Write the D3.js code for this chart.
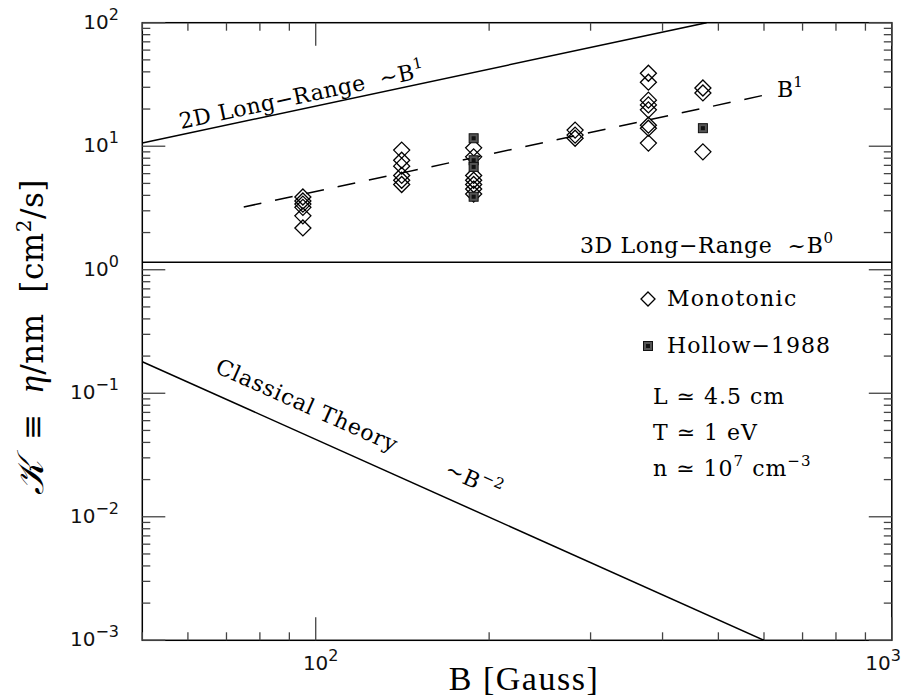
<!DOCTYPE html>
<html><head><meta charset="utf-8">
<script src="https://cdn.jsdelivr.net/npm/d3@7"></script>
<style>body{margin:0;background:#fff}svg{display:block}text{white-space:pre}</style>
</head><body>
<svg id="c" width="903" height="698"></svg>
<script>
// ---- data ----
const monoB = [95,95,95,95,95,95, 141,141,141,141,141,141, 188,188,188,188,188,188,188, 282,282,282, 378,378,378,378,378,378,378,378, 470,470,470];
const monoK = [3.88,3.6,3.4,3.2,2.73,2.18, 9.3,7.7,6.9,5.8,5.3,4.9, 9.7,8.2,5.8,5.3,4.9,4.5,4.1, 13.5,12.3,11.6, 39,33,23.6,21.6,19.7,14.8,14,10.6, 29.6,27,9.0];
const hollowB = [188,188,188,188,470];
const hollowK = [11.6,7.7,6.8,3.9,14.0];
const line2D_B = [50,477], line2D_K = [10.6,100];
const fitB = [75,600], fitK = [3.22,25.9];
const line3D_B = [50,1000], line3D_K = [1.15,1.15];
const classB = [50,600], classK = [0.18,0.001];
const xTickLabels = [{v:100,e:"2"},{v:1000,e:"3"}];
const yTickLabels = [{v:100,e:"2"},{v:10,e:"1"},{v:1,e:"0"},{v:0.1,e:"\u22121"},{v:0.01,e:"\u22122"},{v:0.001,e:"\u22123"}];

const svg = d3.select("#c");
const L=142.3,R=891.8,T=22.7,B=640.3;
const x = d3.scaleLog().domain([50,1000]).range([L,R]);
const y = d3.scaleLog().domain([0.001,100]).range([B,T]);
const serif = "'DejaVu Serif', 'Liberation Serif', serif";

// frame
svg.append("rect").attr("x",L).attr("y",T).attr("width",R-L).attr("height",B-T)
  .attr("fill","none").attr("stroke","#000").attr("stroke-width",1.5);

// ticks
const xt = [];
for (let d=10; d<=1000; d*=10) for (let m=1;m<10;m++){const v=d*m; if(v>=50&&v<=1000) xt.push(v);}
const yt = [];
for (let d=0.001; d<=100; d*=10) for (let m=1;m<10;m++){const v=+(d*m).toPrecision(3); if(v>=0.001&&v<=100) yt.push(v);}
const isMajor = v => Math.abs(Math.log10(v)-Math.round(Math.log10(v)))<1e-6;
const tg = svg.append("g").attr("stroke","#444").attr("stroke-width",1.3);
xt.forEach(v=>{const len=isMajor(v)?23:8, px=x(v);
  tg.append("line").attr("x1",px).attr("x2",px).attr("y1",B).attr("y2",B-len);
  tg.append("line").attr("x1",px).attr("x2",px).attr("y1",T).attr("y2",T+len);});
yt.forEach(v=>{const len=isMajor(v)?23:8, py=y(v);
  tg.append("line").attr("y1",py).attr("y2",py).attr("x1",L).attr("x2",L+len);
  tg.append("line").attr("y1",py).attr("y2",py).attr("x1",R).attr("x2",R-len);});

// tick labels
const tickFont = "'DejaVu Sans', sans-serif";
yTickLabels.forEach(t=>{
  const tx = svg.append("text").attr("x",119).attr("y",y(t.v)+6).attr("text-anchor","end")
    .attr("font-family",tickFont).attr("font-size",20).attr("fill","#111");
  tx.append("tspan").text("10");
  tx.append("tspan").attr("dy",-9).attr("font-size",16).text(t.e);
});
xTickLabels.forEach(t=>{
  const last = t.v===1000;
  const tx = svg.append("text").attr("x",last?901:x(t.v)+5).attr("y",670).attr("text-anchor",last?"end":"middle")
    .attr("font-family",tickFont).attr("font-size",20).attr("fill","#111");
  tx.append("tspan").text("10");
  tx.append("tspan").attr("dy",-9).attr("font-size",16).text(t.e);
});

// lines
const ln = d3.line().x(d=>x(d[0])).y(d=>y(d[1]));
svg.append("clipPath").attr("id","pc").append("rect").attr("x",L).attr("y",T).attr("width",R-L).attr("height",B-T);
const lg = svg.append("g").attr("clip-path","url(#pc)").attr("fill","none").attr("stroke","#000").attr("stroke-width",1.5);
lg.append("path").attr("d",ln(d3.zip(line2D_B,line2D_K)));
lg.append("path").attr("d",ln(d3.zip(line3D_B,line3D_K)));
lg.append("path").attr("d",ln(d3.zip(classB,classK)));
lg.append("path").attr("d",ln(d3.zip(fitB,fitK))).attr("stroke-dasharray","18,14");

// markers
const mg = svg.append("g");
function diamond(g,cx,cy,s){
  g.append("path").attr("d",`M${cx},${cy-s}L${cx+s},${cy}L${cx},${cy+s}L${cx-s},${cy}Z`)
    .attr("fill","none").attr("stroke","#000").attr("stroke-width",1.3);
}
d3.zip(monoB,monoK).forEach(([b,k])=>diamond(mg,x(b),y(k),8));
function hollowMark(g,cx,cy){
  g.append("rect").attr("x",cx-4.5).attr("y",cy-4.5).attr("width",9).attr("height",9)
    .attr("fill","#555").attr("stroke","#111").attr("stroke-width",1);
  g.append("rect").attr("x",cx-2).attr("y",cy-2).attr("width",4).attr("height",4).attr("fill","#111");
}
d3.zip(hollowB,hollowK).forEach(([b,k])=>hollowMark(mg,x(b),y(k)));

// annotations
function angleOf(bs,ks){const dx=x(bs[1])-x(bs[0]), dy=y(ks[1])-y(ks[0]); return Math.atan2(dy,dx)*180/Math.PI;}
const a2 = angleOf(line2D_B,line2D_K);
const t2 = svg.append("text").attr("font-family",serif).attr("font-size",22).attr("letter-spacing",0.4)
  .attr("transform",`translate(181,129) rotate(${a2})`);
t2.append("tspan").text("2D Long\u2212Range  ~B");
t2.append("tspan").attr("dy",-10).attr("font-size",15).text("1");

const tb = svg.append("text").attr("font-family",serif).attr("font-size",22).attr("x",777).attr("y",97);
tb.append("tspan").text("B");
tb.append("tspan").attr("dy",-10).attr("font-size",15).text("1");

const t3 = svg.append("text").attr("font-family",serif).attr("font-size",22).attr("letter-spacing",0.6).attr("x",580).attr("y",253);
t3.append("tspan").text("3D Long\u2212Range  ~B");
t3.append("tspan").attr("dy",-10).attr("font-size",15).text("0");

const ac = angleOf(classB,classK);
const tc = svg.append("text").attr("font-family",serif).attr("font-size",22).attr("letter-spacing",0.8)
  .attr("transform",`translate(214,372) rotate(${ac})`);
tc.append("tspan").text("Classical Theory       ~B");
tc.append("tspan").attr("dy",-10).attr("font-size",15).text("\u22122");

// legend
const lf = 22;
diamond(svg,648,299,7);
svg.append("text").attr("x",667).attr("y",306).attr("font-family",serif).attr("font-size",lf).attr("letter-spacing",1.3).text("Monotonic");
hollowMark(svg,648,346);
svg.append("text").attr("x",667).attr("y",353).attr("font-family",serif).attr("font-size",lf).attr("letter-spacing",1).text("Hollow\u22121988");
svg.append("text").attr("x",653).attr("y",404).attr("font-family",serif).attr("font-size",lf).attr("letter-spacing",1).text("L \u2243 4.5 cm");
svg.append("text").attr("x",653).attr("y",440).attr("font-family",serif).attr("font-size",lf).attr("letter-spacing",1).text("T \u2243 1 eV");
const tn = svg.append("text").attr("x",653).attr("y",476).attr("font-family",serif).attr("font-size",lf).attr("letter-spacing",1);
tn.append("tspan").text("n \u2243 10");
tn.append("tspan").attr("dy",-10).attr("font-size",15).text("7");
tn.append("tspan").attr("dy",10).text(" cm");
tn.append("tspan").attr("dy",-10).attr("font-size",15).text("\u22123");

// axis titles
svg.append("text").attr("x",524).attr("y",690).attr("text-anchor","middle")
  .attr("font-family","'Liberation Serif', serif").attr("font-size",34).attr("letter-spacing",1.5).text("B [Gauss]");
const yl = svg.append("text").attr("transform","translate(43,337) rotate(-90)").attr("text-anchor","middle")
  .attr("font-family",serif).attr("font-size",31).attr("letter-spacing",0.5);
yl.append("tspan").attr("font-family","'Liberation Serif', serif").attr("font-style","italic").attr("font-size",37).text("\uD835\uDCA6");
yl.append("tspan").text("  \u2261  ");
yl.append("tspan").attr("font-family","'Liberation Serif', serif").attr("font-style","italic").attr("font-size",35).text("\u03B7");
yl.append("tspan").text("/nm  [cm");
yl.append("tspan").attr("dy",-12).attr("font-size",20).text("2");
yl.append("tspan").attr("dy",12).text("/s]");
</script>
</body></html>
